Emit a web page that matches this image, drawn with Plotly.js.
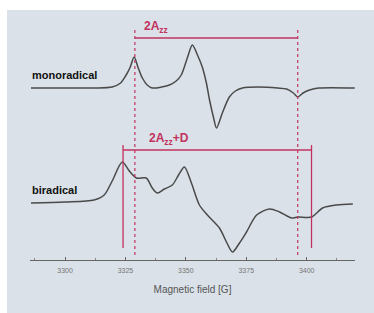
<!DOCTYPE html>
<html><head><meta charset="utf-8">
<script src="https://cdn.plot.ly/plotly-3.0.1.min.js"></script>
<style>
html,body{margin:0;padding:0;background:#ffffff;width:374px;height:313px;overflow:hidden}
#chart{position:absolute;left:7px;top:10px;width:367px;height:303px}
</style></head><body>
<div id="chart"></div>
<script>
// Magnetic field (G) and intensity (a.u., relative to baseline)
const monoField = [3285.9,3300,3312,3319.5,3323,3325.3,3327,3328.6,3330.3,3332,3334,3336.1,3340,3343.2,3346,3348.1,3350.6,3352.7,3354.8,3356.8,3358.5,3359.8,3361.5,3362.7,3365.1,3368,3370.5,3373.4,3380,3388,3391.7,3394.5,3396.3,3398.5,3401.2,3405,3419.9];
const monoInt   = [0,0,0,1,5,13,21,31,20,10,3,0,1,3,7,13,30,43,33,21,5,-12,-30,-40,-25,-9,-3,0,1,0,-1,-5,-9,-5,-2,0,0];
const biField = [3285.9,3300,3312,3316.2,3319.5,3323.7,3326.6,3329.5,3333.6,3336.1,3338.2,3341.1,3344.4,3347,3349.4,3352.3,3355.6,3358.9,3363.9,3367,3369.3,3372.2,3375.1,3379.3,3384.6,3388.8,3393.8,3396.3,3402.1,3406.6,3412.4,3419.1];
const biInt   = [0,1,3,8,22,41,32,25,25,15,10,14,18,28,36,20,-2,-12,-25,-40,-49,-40,-29,-12,-6,-9,-15,-14,-14,-5,-2,-1];
const monoOffset = 172, biOffset = 57;
const seriesLabels = ["monoradical","biradical"];
const azzField = [3328.9, 3396.3];     // 2Azz markers
const azzDField = [3324.0, 3402.0];    // 2Azz+D markers
const tickVals = [3300,3325,3350,3375,3400];
const xTitle = "Magnetic field [G]";

const red = "#c2325e";
const traces = [
  {x: monoField, y: monoInt.map(v=>v+monoOffset), mode:"lines", line:{color:"#4a4a4a",width:1.5,shape:"spline",smoothing:0.8}, hoverinfo:"skip"},
  {x: biField, y: biInt.map(v=>v+biOffset), mode:"lines", line:{color:"#4a4a4a",width:1.5,shape:"spline",smoothing:0.8}, hoverinfo:"skip"}
];
const shapes = [
  {type:"line",x0:azzField[0],x1:azzField[0],y0:5,y1:230,line:{color:red,width:1.2,dash:"dot"}},
  {type:"line",x0:azzField[1],x1:azzField[1],y0:5,y1:230,line:{color:red,width:1.2,dash:"dot"}},
  {type:"line",x0:azzField[0],x1:azzField[1],y0:222,y1:222,line:{color:red,width:1.6}},
  {type:"line",x0:azzDField[0],x1:azzDField[0],y0:12,y1:115,line:{color:red,width:1.3}},
  {type:"line",x0:azzDField[1],x1:azzDField[1],y0:12,y1:115,line:{color:red,width:1.3}},
  {type:"line",x0:azzDField[0],x1:azzDField[1],y0:110,y1:110,line:{color:red,width:1.6}}
];
const annotations = [
  {x:azzField[0]+3,y:233,xanchor:"left",yanchor:"middle",text:"<b>2A<sub>zz</sub></b>",showarrow:false,font:{family:"Liberation Sans, Arial",size:12,color:red}},
  {x:azzDField[0]+10,y:121,xanchor:"left",yanchor:"middle",text:"<b>2A<sub>zz</sub>+D</b>",showarrow:false,font:{family:"Liberation Sans, Arial",size:12,color:red}},
  {x:3285.5,y:monoOffset+13,xanchor:"left",yanchor:"middle",text:"<b>"+seriesLabels[0]+"</b>",showarrow:false,font:{family:"Liberation Sans, Arial",size:11,color:"#111"}},
  {x:3285.5,y:biOffset+13,xanchor:"left",yanchor:"middle",text:"<b>"+seriesLabels[1]+"</b>",showarrow:false,font:{family:"Liberation Sans, Arial",size:11,color:"#111"}}
];
const layout = {
  width:367,height:303,
  margin:{l:23,r:19,t:10,b:53},
  paper_bgcolor:"#dae1e8",plot_bgcolor:"#dae1e8",
  showlegend:false,
  xaxis:{range:[3285.5,3420],tickvals:tickVals,ticktext:tickVals.map(String),showgrid:false,zeroline:false,
    showline:true,linecolor:"#666",linewidth:1,ticks:"inside",ticklen:3,tickcolor:"#666",ticklabelstandoff:4,
    minor:{dtick:12.5,ticks:"inside",ticklen:2,tickcolor:"#888"},
    tickfont:{family:"Liberation Sans, Arial",size:7,color:"#777"},
    title:{text:xTitle,font:{family:"Liberation Sans, Arial",size:10,color:"#555"},standoff:12}},
  yaxis:{range:[0,240],visible:false,showgrid:false,zeroline:false},
  shapes:shapes,annotations:annotations
};
Plotly.newPlot("chart",traces,layout,{staticPlot:true,displayModeBar:false});
</script></body></html>
